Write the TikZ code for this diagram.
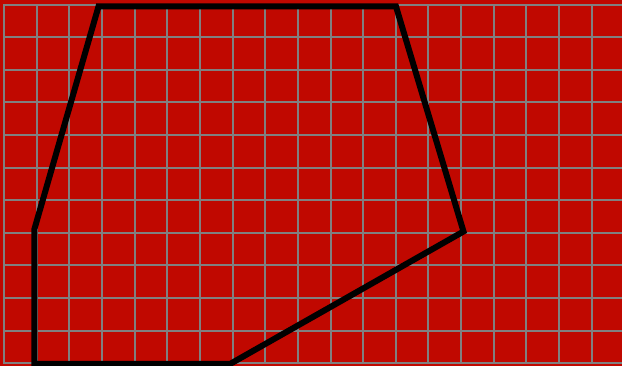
\documentclass[tikz,border=0pt]{standalone}
\definecolor{bgred}{RGB}{192,8,0}
\definecolor{gridgray}{RGB}{128,128,128}
\tikzset{
  gridline/.style={draw=gridgray, line width=2pt},
  shapeline/.style={draw=black, line width=6pt, line join=miter}
}
\begin{document}
\begin{tikzpicture}[x=1pt,y=-1pt]
  \fill[bgred] (0,0) rectangle (622,366);
  \useasboundingbox (0,0) rectangle (622,366);
  \begin{scope}
    \clip (0,0) rectangle (622,366);
    \foreach \k in {0,...,18} {
      \draw[gridline] ({4+32.65*\k},4.7) -- ({4+32.65*\k},363.3);
    }
    \foreach \k in {0,...,11} {
      \draw[gridline] (3,{363.3-32.6*\k}) -- (624,{363.3-32.6*\k});
    }
    \draw[shapeline] (98.5,6.5) -- (396,6.5) -- (463.5,231.5) -- (230,364) -- (34.3,364) -- (34.3,229.5) -- cycle;
  \end{scope}
\end{tikzpicture}
\end{document}
